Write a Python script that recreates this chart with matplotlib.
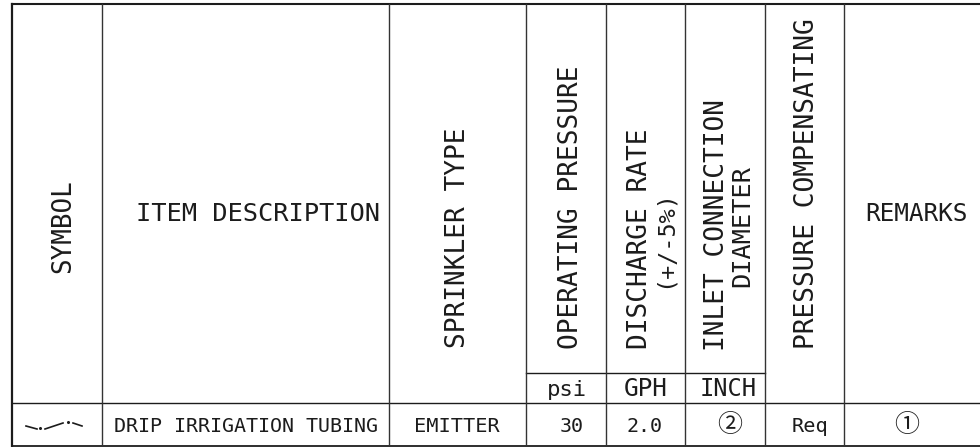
import matplotlib
matplotlib.use("Agg")
import matplotlib.pyplot as plt

FONT = ["DejaVu Sans Mono", "Noto Sans CJK SC"]
CIRCLE_FONT = ["Noto Sans CJK SC", "DejaVu Sans"]
INK = "#1c1c1c"

# table content
col_edges = [102, 389, 526, 606, 685, 765, 844]
unit_row_y = 373
body_row_y = 403
header_rot = [
    ("SYMBOL", 70, 226.5, 18.6),
    ("SPRINKLER TYPE", 465, 237.5, 18.8),
    ("OPERATING PRESSURE", 578, 207.5, 18.8),
    ("DISCHARGE RATE", 647, 239, 18.8),
    ("(+/-5%)", 670.5, 239, 16.8),
    ("INLET CONNECTION", 724, 225, 18.8),
    ("DIAMETER", 749, 226, 18.2),
    ("PRESSURE COMPENSATING", 813.5, 183.5, 18.9),
]
header_flat = [("ITEM DESCRIPTION", 258, 221, 18.3), ("REMARKS", 916.5, 221, 17.6)]
units = [("psi", 567, 396, 16.0), ("GPH", 646, 396, 17.6), ("INCH", 728.5, 396, 17.0)]
body = [
    ("DRIP IRRIGATION TUBING", 245.5, 432.5, 14.4),
    ("EMITTER", 457, 432.5, 14.6),
    ("30", 572, 432.5, 14.4),
    ("2.0", 644, 432.5, 14.4),
    ("Req", 810, 432.5, 14.6),
]
circled = [("\u2461", 730, 424.5, 18), ("\u2460", 907, 424.5, 18)]
symbol_segments = [
    ([26, 37], [426, 429]),
    ([45, 63], [429, 423]),
    ([73, 82], [423, 426]),
]
symbol_dots = ([40, 68], [428, 422])

fig = plt.figure(figsize=(9.8, 4.47), dpi=100)
ax = fig.add_axes([0, 0, 1, 1])
ax.set_xlim(0, 980)
ax.set_ylim(447, 0)
ax.axis("off")

# frame
ax.plot([12, 12], [4, 446], color=INK, lw=1.6)
ax.plot([12, 980], [4, 4], color=INK, lw=1.5)
ax.plot([12, 980], [446, 446], color=INK, lw=1.3)
ax.plot([12, 980], [body_row_y, body_row_y], color=INK, lw=1.0)
ax.plot([col_edges[2], col_edges[5]], [unit_row_y, unit_row_y], color=INK, lw=1.0)
for x in col_edges:
    ax.plot([x, x], [4, 444], color="#333333", lw=1.0)

for s, x, y, fs in header_rot:
    ax.text(x, y, s, rotation=90, rotation_mode="anchor", ha="center", va="baseline",
            family=FONT, fontsize=fs, color=INK)
for s, x, y, fs in header_flat + units + body:
    ax.text(x, y, s, ha="center", va="baseline", family=FONT, fontsize=fs, color=INK)
for s, x, y, fs in circled:
    ax.text(x, y, s, ha="center", va="center", family=CIRCLE_FONT, fontsize=fs, color=INK)

for xs, ys in symbol_segments:
    ax.plot(xs, ys, color=INK, lw=1.2)
ax.plot(symbol_dots[0], symbol_dots[1], ls="none", marker="o", ms=1.2, color=INK)

fig.savefig("out.png", dpi=100)
